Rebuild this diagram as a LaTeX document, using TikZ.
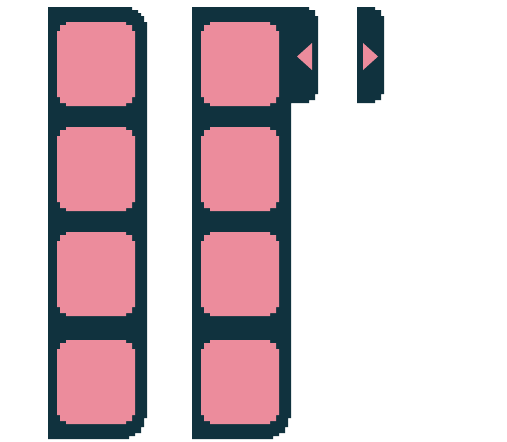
\documentclass[tikz,border=0pt]{standalone}
\begin{document}
\begin{tikzpicture}[x=1pt,y=-1pt]
\definecolor{darkteal}{HTML}{10323E}
\definecolor{rosepink}{HTML}{EC8C9C}
\tikzset{frame/.style={fill=darkteal,draw=none},cell/.style={fill=rosepink,draw=none}}
\useasboundingbox (0,0) rectangle (507,442);
\fill[white] (0,0) rectangle (507,442);
% pixel-rounded cell: #1 = left x, #2 = top y (78 x 84)
\newcommand{\pinkcell}[2]{%
  \fill[cell] (#1+9,#2) -- (#1+69,#2) -- (#1+69,#2+3) -- (#1+75,#2+3) -- (#1+75,#2+9)
    -- (#1+78,#2+9) -- (#1+78,#2+75) -- (#1+75,#2+75) -- (#1+75,#2+81) -- (#1+69,#2+81)
    -- (#1+69,#2+84) -- (#1+9,#2+84) -- (#1+9,#2+81) -- (#1+3,#2+81) -- (#1+3,#2+75)
    -- (#1,#2+75) -- (#1,#2+9) -- (#1+3,#2+9) -- (#1+3,#2+3) -- (#1+9,#2+3) -- cycle;}
% left column
\fill[frame] (48,7) -- (132,7) -- (132,10) -- (138,10) -- (138,13) -- (141,13) -- (141,16)
  -- (144,16) -- (144,22) -- (147,22) -- (147,418) -- (144,418) -- (144,427) -- (141,427)
  -- (141,433) -- (135,433) -- (135,436) -- (129,436) -- (129,439) -- (48,439) -- cycle;
% middle column with tab
\fill[frame] (192,7) -- (309,7) -- (309,10) -- (315,10) -- (315,16) -- (318,16) -- (318,94)
  -- (315,94) -- (315,100) -- (309,100) -- (309,103) -- (291,103) -- (291,418) -- (288,418)
  -- (288,427) -- (285,427) -- (285,433) -- (279,433) -- (279,436) -- (273,436) -- (273,439)
  -- (192,439) -- cycle;
% separate tab
\fill[frame] (357,7) -- (375,7) -- (375,10) -- (381,10) -- (381,16) -- (384,16) -- (384,94)
  -- (381,94) -- (381,100) -- (375,100) -- (375,103) -- (357,103) -- cycle;
% cells
\foreach \y in {22,127,232,340} {
  \pinkcell{57}{\y}
  \pinkcell{201}{\y}
}
% arrows
\fill[cell] (312,43) -- (312,70) -- (297,56.5) -- cycle;
\fill[cell] (363,43) -- (363,70) -- (378,56.5) -- cycle;
\end{tikzpicture}
\end{document}
